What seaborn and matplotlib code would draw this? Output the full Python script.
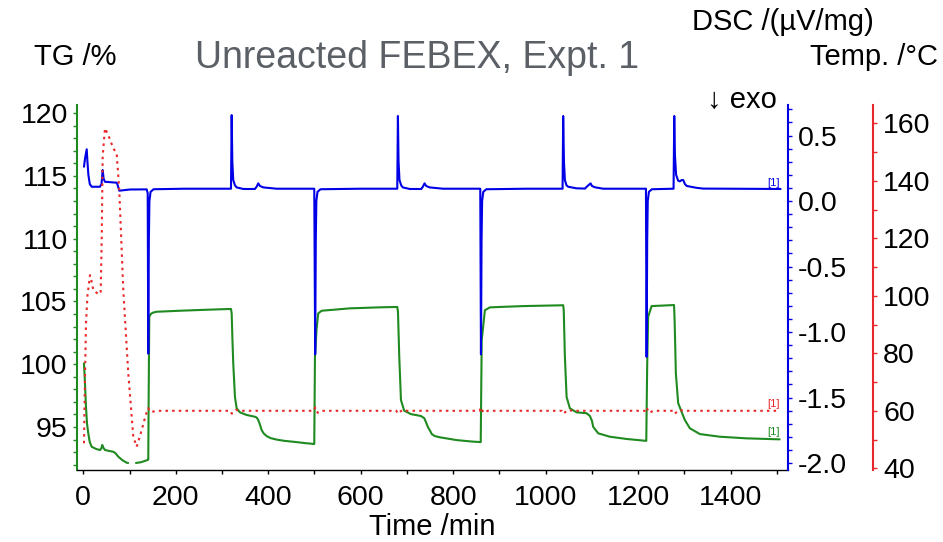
import matplotlib
matplotlib.use("Agg")
import matplotlib.pyplot as plt
import seaborn as sns
from matplotlib.ticker import MultipleLocator, FixedLocator, FormatStrFormatter

# ---- TG trace (time / min, mass / %), split where the recording has a gap ----
tg_time_a = [1.5, 3.5, 5.8, 8.0, 10.8, 14.0, 18.2, 28.0, 36.1, 39.0, 41.0, 43.5,
             47.0, 65.0, 70.0, 75.7, 85.0, 93.8, 97.0]
tg_val_a = [100.07, 98.6, 96.62, 95.3, 94.5, 93.8, 93.43, 93.25, 93.17, 93.3, 93.57, 93.35,
            93.17, 93.03, 92.9, 92.64, 92.35, 92.16, 92.14]

tg_time_b = [114.0, 125.0, 138.4, 140.5, 141.5, 142.7, 146.0, 150.0, 158.7, 209.0, 260.0, 300.0,
             319.4, 320.9, 322.5, 324.3, 328.0, 331.7, 338.8, 353.3, 371.2, 375.0, 378.4, 382.0,
             385.7, 390.0, 396.5, 405.0, 418.2, 435.0, 454.1, 480.0, 499.5,
             501.0, 504.5, 508.1, 515.5, 576.6, 640.0, 679.0,
             680.5, 682.0, 683.3, 687.0, 694.0, 708.5, 730.0, 737.5, 741.0, 745.0, 750.0, 753.7,
             760.0, 771.7, 807.7, 839.0, 859.5,
             861.6, 868.5, 879.4, 951.4, 1030.7, 1037.8,
             1039.0, 1041.5, 1045.2, 1052.3, 1066.8, 1088.4, 1095.6, 1100.0, 1102.7, 1113.5,
             1138.8, 1174.9, 1217.5,
             1219.5, 1221.6, 1229.0, 1275.7, 1277.5,
             1278.8, 1281.5, 1286.5, 1293.8, 1300.9, 1311.8, 1333.4, 1376.6, 1434.4, 1506.0]
tg_val_b = [92.14, 92.2, 92.37, 92.4, 98.0, 103.78, 104.0, 104.1, 104.18, 104.26, 104.33, 104.38,
            104.4, 104.05, 102.0, 100.07, 97.4, 96.49, 96.17, 95.96, 95.82, 95.75, 95.56, 95.2,
            94.76, 94.5, 94.28, 94.12, 94.0, 93.9, 93.83, 93.72, 93.65,
            100.6, 102.8, 104.05, 104.26, 104.45, 104.53, 104.56,
            104.2, 102.3, 100.6, 97.15, 96.3, 96.03, 95.88, 95.7, 95.4, 95.02, 94.7, 94.44,
            94.28, 94.18, 93.96, 93.85, 93.8,
            101.9, 104.3, 104.53, 104.63, 104.69, 104.7,
            104.3, 100.6, 97.4, 96.49, 96.17, 96.1, 95.88, 95.5, 95.02, 94.5,
            94.23, 94.05, 93.9,
            100.0, 103.78, 104.63, 104.71, 104.72,
            103.5, 99.27, 96.9, 96.22, 95.56, 94.9, 94.44, 94.23, 94.1, 94.02]

# ---- DSC trace (time / min, µV/mg) ----
dsc_time = [1.5, 4.0, 7.4, 9.0, 11.0, 14.0, 18.2, 36.1, 39.4, 41.9, 44.0, 46.9, 72.2, 74.5,
            77.8, 101.0, 137.1, 139.3, 140.5, 141.8, 143.0, 145.5, 152.0, 220.0,
            319.4, 320.9, 322.3, 324.3, 328.0, 331.7, 346.0, 371.2, 375.0, 378.4, 382.0, 389.2,
            418.2, 499.5, 501.5, 502.8, 504.0, 506.5, 513.0, 600.0,
            679.0, 680.4, 681.8, 683.8, 687.5, 691.0, 706.0, 731.0, 734.5, 738.0, 741.5, 749.0,
            778.0, 858.5, 860.0, 861.3, 862.5, 865.0, 871.5, 960.0,
            1036.5, 1037.8, 1039.5, 1041.5, 1045.0, 1048.6, 1066.8, 1085.0, 1089.0, 1097.1,
            1100.0, 1106.4, 1124.3, 1216.8, 1218.2, 1219.5, 1220.7, 1223.2, 1229.7,
            1276.5, 1278.0, 1279.5, 1282.0, 1286.5, 1290.0, 1294.0, 1297.5, 1301.0, 1305.0,
            1326.0, 1340.0, 1508.0]
dsc_val = [0.262, 0.33, 0.395, 0.30, 0.20, 0.13, 0.109, 0.109, 0.13, 0.237, 0.17, 0.147, 0.14, 0.12,
           0.079, 0.088, 0.089, 0.06, -1.165, -0.30, 0.0, 0.07, 0.09, 0.094,
           0.094, 0.656, 0.30, 0.16, 0.12, 0.104, 0.092, 0.092, 0.11, 0.135, 0.115, 0.104,
           0.094, 0.094, -1.17, -0.30, 0.0, 0.07, 0.09, 0.094,
           0.094, 0.649, 0.30, 0.16, 0.12, 0.104, 0.092, 0.092, 0.11, 0.135, 0.115, 0.104,
           0.094, 0.094, -1.17, -0.30, 0.0, 0.07, 0.09, 0.094,
           0.094, 0.649, 0.30, 0.16, 0.12, 0.109, 0.097, 0.095, 0.11, 0.135,
           0.115, 0.105, 0.094, 0.094, -1.19, -0.30, 0.0, 0.07, 0.09,
           0.094, 0.649, 0.35, 0.20, 0.155, 0.15, 0.16, 0.16, 0.13, 0.115,
           0.101, 0.095, 0.092]

# ---- Furnace temperature (time / min, °C) ----
temp_time = [1.5, 3.5, 5.8, 9.0, 14.5, 18.0, 21.6, 32.4, 37.6, 39.8, 41.9, 46.9, 54.1, 64.9,
             72.2, 77.8, 86.5, 97.3, 108.1, 115.5, 126.3, 135.0, 140.5, 145.0, 158.7,
             318.0, 321.0, 330.0, 340.0, 499.0, 501.5, 507.0, 516.0,
             677.0, 680.0, 690.0, 700.0, 857.0, 860.0, 865.5, 875.0,
             1035.0, 1038.0, 1048.0, 1058.0, 1215.0, 1218.0, 1223.5, 1233.0,
             1276.0, 1279.0, 1289.0, 1299.0, 1506.0]
temp_val = [48.7, 70.0, 90.4, 100.0, 107.2, 105.0, 102.0, 100.6, 100.9, 119.4, 148.4, 158.3, 155.9, 151.3,
            149.6, 136.8, 102.0, 73.0, 51.0, 47.5, 53.3, 58.5, 60.9, 59.5, 60.0,
            60.0, 59.0, 60.3, 60.0, 60.0, 61.2, 59.3, 60.0,
            60.0, 59.0, 60.3, 60.0, 60.0, 61.2, 59.3, 60.0,
            60.0, 59.0, 60.3, 60.0, 60.0, 61.2, 59.3, 60.0,
            60.0, 59.0, 60.3, 60.0, 60.0]

# ---- axis ticks ----
time_ticks = [0, 200, 400, 600, 800, 1000, 1200, 1400]
tg_ticks = [95, 100, 105, 110, 115, 120]
dsc_ticks = [-2.0, -1.5, -1.0, -0.5, 0.0, 0.5]
temp_ticks = [40, 60, 80, 100, 120, 140, 160]

GREEN = "#1f8a1f"
BLUE = "#0000e6"
RED = "#e8282a"
FONT = ["Liberation Sans", "DejaVu Sans"]

sns.set_style("ticks")
plt.rcParams["font.family"] = FONT
plt.rcParams["axes.unicode_minus"] = False
plt.rcParams["text.color"] = "black"
plt.rcParams["axes.labelcolor"] = "black"
plt.rcParams["xtick.labelcolor"] = "black"
plt.rcParams["ytick.labelcolor"] = "black"

W, H = 943, 542
fig = plt.figure(figsize=(W / 100, H / 100), dpi=100)
L, R, T, B = 77, 788, 105, 470
ax = fig.add_axes([L / W, 1 - B / H, (R - L) / W, (B - T) / H])
ax_dsc = ax.twinx()
ax_temp = ax.twinx()
ax_temp.spines["right"].set_position(("axes", (873 - L) / (R - L)))

# TG
sns.lineplot(x=tg_time_a, y=tg_val_a, ax=ax, color=GREEN, lw=1.5, estimator=None, sort=False)
sns.lineplot(x=tg_time_b, y=tg_val_b, ax=ax, color=GREEN, lw=1.5, estimator=None, sort=False)
# DSC
sns.lineplot(x=dsc_time, y=dsc_val, ax=ax_dsc, color=BLUE, lw=1.5, estimator=None, sort=False)
# Temperature
sns.lineplot(x=temp_time, y=temp_val, ax=ax_temp, color=RED, lw=1.5,
             linestyle=(0, (1.2, 2.0)), estimator=None, sort=False)

ax.set_xlim(-13.6, 1524)
ax.set_ylim(91.58, 120.64)
ax_dsc.set_ylim(-2.053, 0.733)
ax_temp.set_ylim(39.4, 166.4)

# spines
for s in ["top", "right"]:
    ax.spines[s].set_visible(False)
ax.spines["left"].set_color(GREEN)
ax.spines["left"].set_linewidth(1.5)
ax.spines["bottom"].set_color("black")
ax.spines["bottom"].set_linewidth(1.0)
for a, c in [(ax_dsc, BLUE), (ax_temp, RED)]:
    for s in ["top", "left", "bottom"]:
        a.spines[s].set_visible(False)
    a.spines["right"].set_color(c)
    a.spines["right"].set_linewidth(1.5)

# ticks
fs = 20.5
ax.xaxis.set_major_locator(FixedLocator(time_ticks))
ax.xaxis.set_minor_locator(MultipleLocator(100))
ax.yaxis.set_major_locator(FixedLocator(tg_ticks))
ax.yaxis.set_minor_locator(MultipleLocator(1))
ax.tick_params(axis="x", which="both", direction="out", length=3, width=1, color="black",
               labelsize=fs, pad=7.5, labelcolor="black")
ax.tick_params(axis="y", which="both", direction="out", length=3, width=1, color=GREEN,
               labelsize=fs, pad=3.6, labelcolor="black")

ax_dsc.yaxis.set_major_locator(FixedLocator(dsc_ticks))
ax_dsc.yaxis.set_minor_locator(MultipleLocator(0.1))
ax_dsc.yaxis.set_major_formatter(FormatStrFormatter("%.1f"))
ax_dsc.tick_params(axis="y", which="both", direction="out", length=3, width=1, color=BLUE,
                   labelsize=fs, pad=4.3, labelcolor="black")

ax_temp.yaxis.set_major_locator(FixedLocator(temp_ticks))
ax_temp.yaxis.set_minor_locator(MultipleLocator(10))
ax_temp.tick_params(axis="y", which="both", direction="out", length=3, width=1, color=RED,
                    labelsize=fs, pad=4.3, labelcolor="black")

ax.set_ylabel("")
ax_dsc.set_ylabel("")
ax_temp.set_ylabel("")
ax.set_xlabel("Time /min", fontsize=21, labelpad=1.5, color="black")

# end-of-trace markers
ax_dsc.text(1493, 0.1, "[1]", color=BLUE, fontsize=8, ha="center", va="bottom")
ax_temp.text(1493, 60.6, "[1]", color=RED, fontsize=8, ha="center", va="bottom")
ax.text(1493, 94.2, "[1]", color=GREEN, fontsize=8, ha="center", va="bottom")

# headings
def ftext(x, y, s, **kw):
    fig.text(x / W, 1 - y / H, s, **kw)

ftext(75, 65, "TG /%", fontsize=21, ha="center", va="baseline", color="black")
ftext(417, 67.5, "Unreacted FEBEX, Expt. 1", fontsize=27, color="#5b5f66",
      ha="center", va="baseline")
ftext(783, 30, "DSC /(µV/mg)", fontsize=21, ha="center", va="baseline", color="black")
ftext(873.5, 65, "Temp. /°C", fontsize=21, ha="center", va="baseline", color="black")
ftext(742, 108.3, "↓ exo", fontsize=21, ha="center", va="baseline", color="black")

fig.savefig("out.png", dpi=100)
